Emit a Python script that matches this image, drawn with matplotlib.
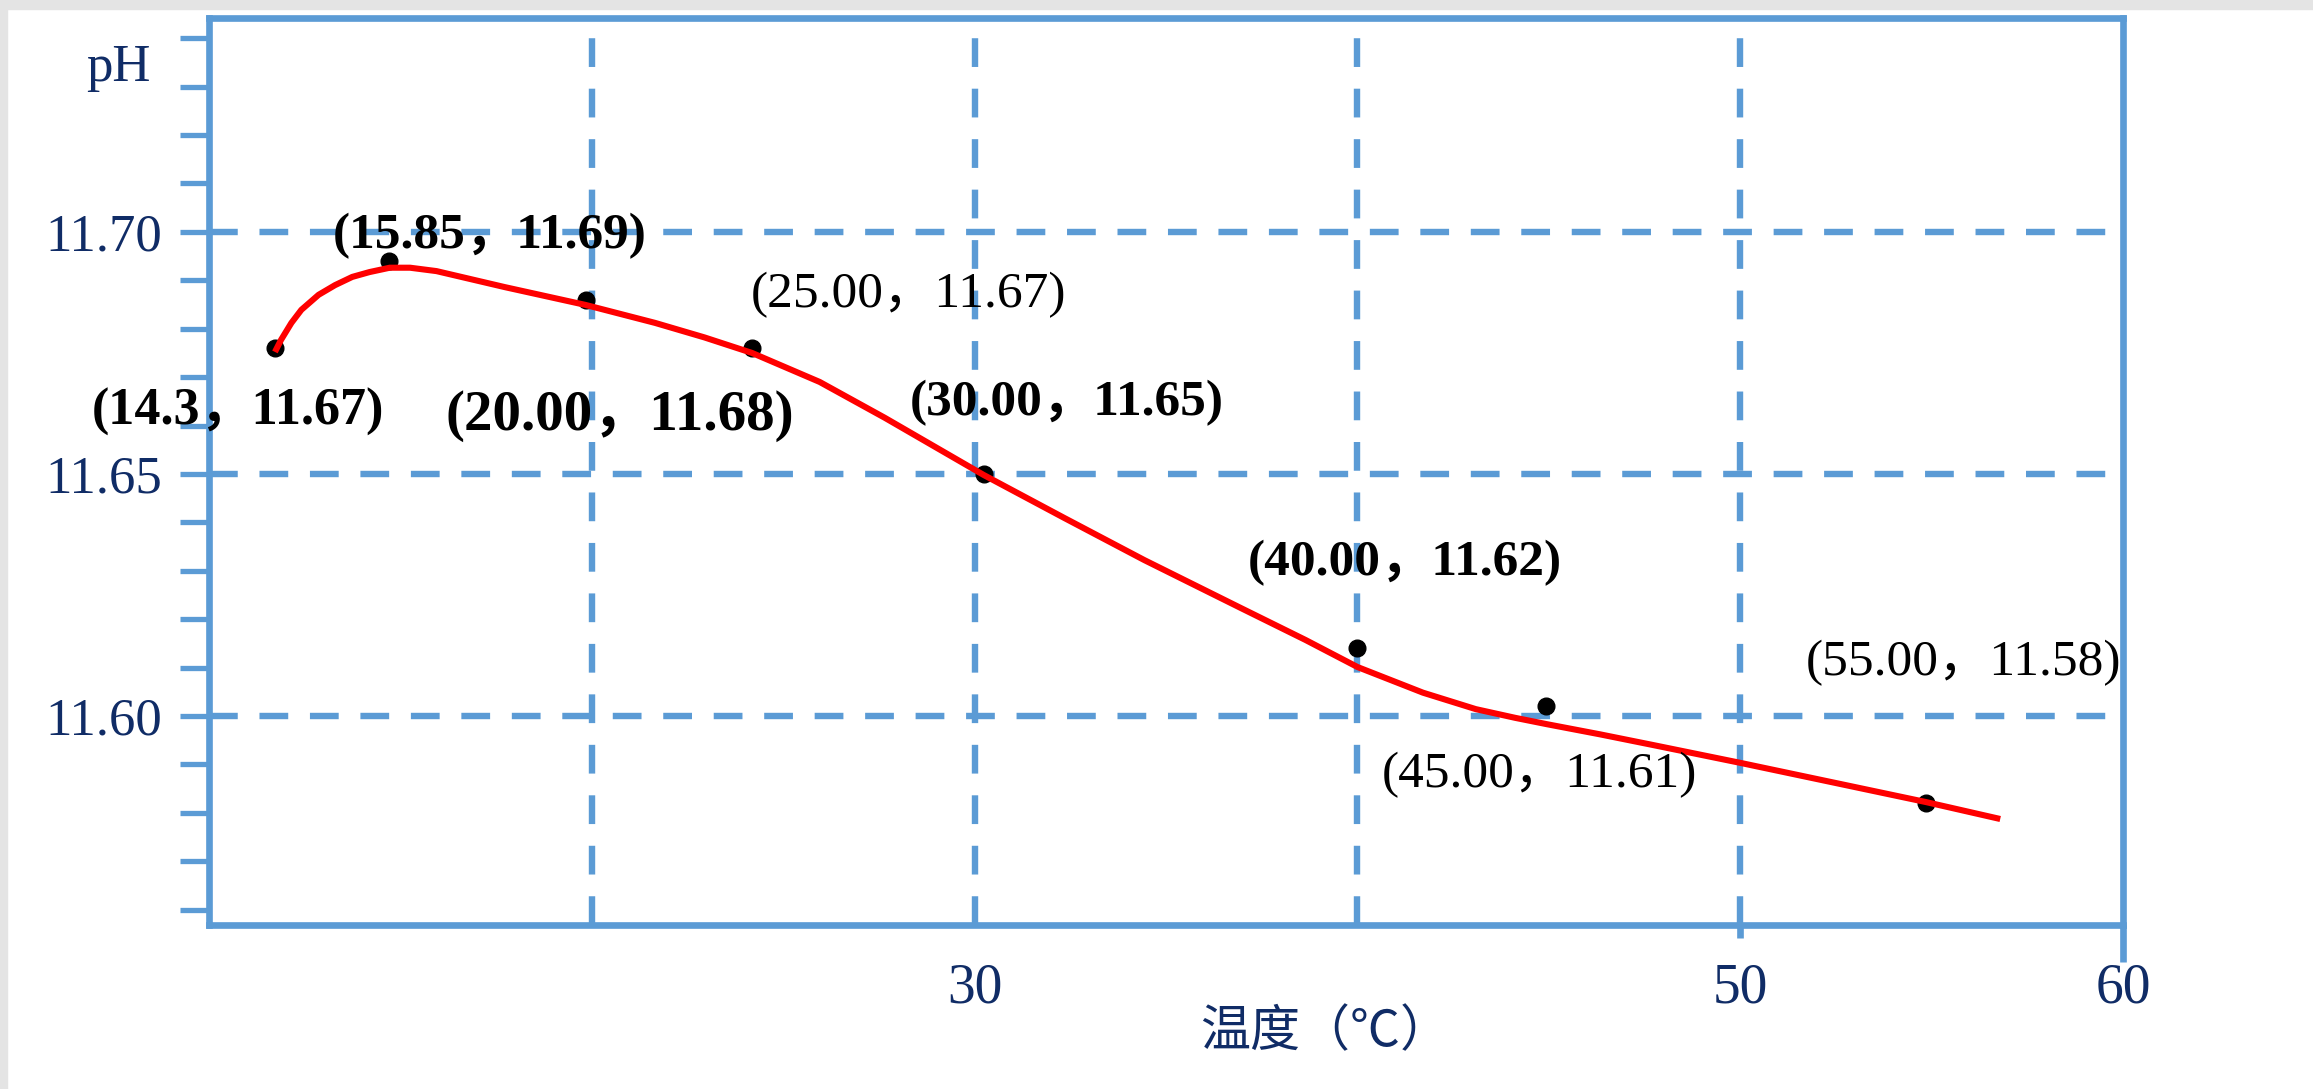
import numpy as np
import matplotlib
matplotlib.use("Agg")
from matplotlib import pyplot as plt
from matplotlib.patches import Rectangle

# measured points: temperature as placed on the drawn axis, pH
temp_c = [11.72, 14.69, 19.84, 24.18, 30.23, 40.00, 44.92, 54.85]
ph = [11.676, 11.694, 11.686, 11.676, 11.650, 11.614, 11.602, 11.582]
point_labels = ["(14.3，11.67)", "(15.85，11.69)", "(20.00，11.68)",
                "(25.00，11.67)", "(30.00，11.65)", "(40.00，11.62)",
                "(45.00，11.61)", "(55.00，11.58)"]
label_bold = [True, True, True, False, True, True, False, False]

# red fitted curve
fit_t = [11.72, 11.88, 12.15, 12.41, 12.86, 13.29, 13.74, 14.19, 14.72, 15.25,
         15.94, 17.72, 19.84, 21.65, 22.94, 24.18, 25.95, 27.65, 30.23, 32.34,
         34.43, 36.95, 38.64, 40.00, 41.71, 43.09, 44.12, 44.94, 46.33, 47.71,
         50.00, 54.85, 56.79]
fit_ph = [11.6752, 11.6777, 11.6812, 11.6839, 11.6870, 11.6890, 11.6907, 11.6917,
          11.6926, 11.6926, 11.6919, 11.6886, 11.6849, 11.6812, 11.6782, 11.6750,
          11.6690, 11.6616, 11.6498, 11.6409, 11.6322, 11.6223, 11.6157, 11.6101,
          11.6048, 11.6014, 11.5996, 11.5983, 11.5962, 11.5940, 11.5903, 11.5822,
          11.5787]

grid_t = [20, 30, 40, 50]
grid_ph = [11.60, 11.65, 11.70]
xtick_vals = [30, 50, 60]
ytick_vals = [11.60, 11.65, 11.70]
ytick_labels = ["11.60", "11.65", "11.70"]
yminor_vals = np.linspace(11.56, 11.74, 19)

# layout (axes fraction) for the point labels, and their sizes
label_pos = [(0.0152, 0.5513), (0.1468, 0.7464), (0.2147, 0.5458), (0.3652, 0.6814),
             (0.4483, 0.5623), (0.6249, 0.3859), (0.6949, 0.1522), (0.9164, 0.2756)]
label_size = [37.5, 37, 41, 37, 37, 37, 37, 37]
xtick_len = [0, 9.4, 26.6]

BLUE = "#5b9bd5"
NAVY = "#102c66"
plt.rcParams['font.family'] = ['Liberation Serif', 'Noto Sans CJK SC']

fig = plt.figure(figsize=(23.13, 10.89), dpi=100)
fig.add_artist(Rectangle((0, 1 - 9/1089), 1, 9/1089, transform=fig.transFigure,
                         color="#e4e4e4", zorder=0))
fig.add_artist(Rectangle((0, 0), 7/2313, 1, transform=fig.transFigure,
                         color="#e4e4e4", zorder=0))
ax = fig.add_axes([0.0904, 0.1506, 0.8275, 0.8329])

for s in ax.spines.values():
    s.set_color(BLUE)
    s.set_linewidth(4.8)

dash = (0, (4.5, 3.4))
for t in grid_t:
    ax.axvline(t, color=BLUE, lw=4.6, ls=dash, zorder=1)
for v in grid_ph:
    ax.axhline(v, color=BLUE, lw=4.6, ls=dash, zorder=1)

ax.plot(temp_c, ph, "o", color="black", ms=12, zorder=3)
ax.plot(fit_t, fit_ph, color="red", lw=4.4, zorder=4, solid_joinstyle="round",
        solid_capstyle="butt")

ax.set_xlim(10, 60)
ax.set_ylim(11.5568, 11.7442)

ax.set_xticks(xtick_vals)
ax.tick_params(axis="x", length=0, pad=27, labelsize=40, labelcolor=NAVY,
               width=4.8, color=BLUE, direction="out")
for tick, ln in zip(ax.xaxis.get_major_ticks(), xtick_len):
    tick.tick1line.set_markersize(ln)

ax.set_yticks(ytick_vals, labels=ytick_labels)
ax.set_yticks(yminor_vals, minor=True)
ax.tick_params(axis="y", which="both", direction="out", length=21, width=3.8,
               color=BLUE, pad=13, labelsize=38, labelcolor=NAVY)

ax.text(-0.0473, 0.9443, "pH", transform=ax.transAxes, ha="center", va="center",
        fontsize=38, color=NAVY)
ax.text(0.583, -0.118, "温度（℃）", transform=ax.transAxes, ha="center", va="center",
        fontsize=36, color=NAVY, family=["Noto Sans CJK SC"])

for lbl, bold, (fx, fy), fs in zip(point_labels, label_bold, label_pos, label_size):
    ax.text(fx, fy, lbl, transform=ax.transAxes, ha="center", va="baseline",
            fontsize=fs, fontweight="bold" if bold else "normal", color="black",
            zorder=5)

fig.savefig("out.png", dpi=100)
